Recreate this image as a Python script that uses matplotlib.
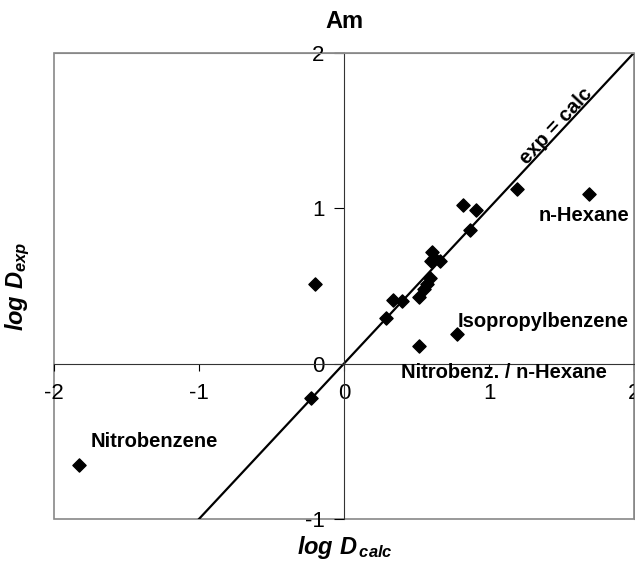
import matplotlib
matplotlib.use('Agg')
import matplotlib.pyplot as plt
from matplotlib.patches import Rectangle

plt.rcParams['font.family'] = ['Liberation Sans', 'DejaVu Sans']
plt.rcParams['mathtext.fontset'] = 'custom'
plt.rcParams['mathtext.it'] = 'Liberation Sans:italic:bold'
plt.rcParams['mathtext.rm'] = 'Liberation Sans:bold'

# Data
log_d_calc = [-1.83, -0.23, -0.20, 0.29, 0.34, 0.40, 0.52, 0.52, 0.55, 0.57,
              0.59, 0.61, 0.62, 0.60, 0.66, 0.78, 0.82, 0.91, 0.87, 1.19, 1.69]
log_d_exp = [-0.65, -0.22, 0.51, 0.29, 0.41, 0.40, 0.43, 0.11, 0.48, 0.51,
             0.55, 0.72, 0.68, 0.66, 0.66, 0.19, 1.02, 0.99, 0.86, 1.12, 1.09]

labels = ['n-Hexane', 'Isopropylbenzene', 'Nitrobenz. / n-Hexane', 'Nitrobenzene']
label_x = [1.34, 0.78, 0.39, -1.75]
label_y = [0.95, 0.27, -0.06, -0.50]

ticks_x = [-2, -1, 0, 1, 2]
ticks_y = [-1, 0, 1, 2]

fig = plt.figure(figsize=(6.35, 5.72), dpi=100)
ax = fig.add_axes([0.085, 0.0927, 0.9135, 0.8152])

# Diagonal exp = calc
ax.plot([-1, 2], [-1, 2], color='black', lw=1.6, zorder=2)
ax.scatter(log_d_calc, log_d_exp, marker='D', s=45, color='black', zorder=3)

ax.set_xlim(-2, 2)
ax.set_ylim(-1, 2)

# Axes crossing at the origin, grey outer box
for side in ['top', 'right']:
    ax.spines[side].set_color('#888888')
for side in ['left', 'bottom']:
    ax.spines[side].set_position(('data', 0))
    ax.spines[side].set_color('#333333')
ax.add_patch(Rectangle((0, 0), 1, 1, transform=ax.transAxes, fill=False,
                       edgecolor='#888888', lw=1.2, clip_on=False))

ax.set_xticks(ticks_x)
ax.set_yticks(ticks_y)
ax.set_xticklabels([str(t) for t in ticks_x])
ax.set_yticklabels([str(t) for t in ticks_y])
ax.tick_params(axis='x', direction='out', length=5, pad=9, labelsize=16)
ax.tick_params(axis='y', direction='out', length=7, pad=7, labelsize=16)

for t, x, y in zip(labels, label_x, label_y):
    ax.text(x, y, t, fontsize=14.5, fontweight='bold', ha='left', va='center')

ax.text(1.46, 1.53, 'exp = calc', fontsize=14.5, fontweight='bold',
        rotation=47, ha='center', va='center', rotation_mode='anchor')

fig.text(0.543, 0.962, 'Am', fontsize=17, fontweight='bold', ha='center', va='center')
fig.text(0.543, 0.042, r'$log\ D_{\,calc}$', fontsize=17, ha='center', va='center')
fig.text(0.028, 0.50, r'$log\ D_{exp}$', fontsize=17, ha='center', va='center', rotation=90)

fig.savefig('out.png', dpi=100)
